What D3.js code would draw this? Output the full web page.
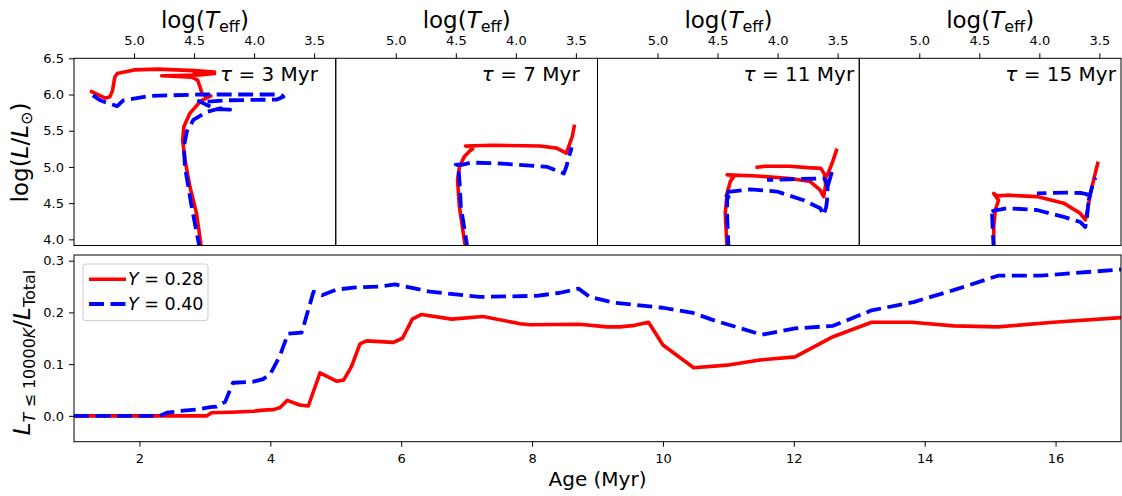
<!DOCTYPE html>
<html><head><meta charset="utf-8">
<script src="https://cdn.jsdelivr.net/npm/d3@7"></script>
<style>
body{margin:0;background:#fff;}
svg{display:block;font-family:"DejaVu Sans",sans-serif;}
</style></head><body>
<svg id="chart" width="1122" height="496"></svg>
<script>
// ---------------- data ----------------
const panelAges = [3, 7, 11, 15];
const tempTicks = [5.0, 4.5, 4.0, 3.5];
const lumTicks = [4.0, 4.5, 5.0, 5.5, 6.0, 6.5];
const ageTicks = [2, 4, 6, 8, 10, 12, 14, 16];
const fracTicks = [0.0, 0.1, 0.2, 0.3];
const seriesLabels = ["0.28", "0.40"];

// isochrones [log Teff, log L]; null = break
const iso3_Y028 = [[4.436,3.85],[4.48,4.36],[4.535,4.73],[4.576,5.10],[4.595,5.37],[4.585,5.555],[4.535,5.74],[4.45,5.90],[4.40,5.95],[4.36,5.98],[4.43,6.0],[4.45,6.1],[4.47,6.2],[4.52,6.24],[4.77,6.26],[4.45,6.27],[4.33,6.29],[4.50,6.30],[4.33,6.31],[4.50,6.33],[4.80,6.35],[5.0,6.34],[5.14,6.29],[5.16,6.24],[5.18,6.05],[5.2,5.97],[5.24,5.95],[5.353,6.04]];
const iso3_Y040 = [[4.45,3.85],[4.52,4.45],[4.576,5.0],[4.585,5.28],[4.56,5.49],[4.506,5.65],[4.395,5.76],[4.283,5.81],[4.2,5.79],[4.32,5.80],[4.40,5.86],[4.46,5.91],[4.40,5.90],[4.228,5.92],[3.81,5.93],[3.756,5.97],[3.78,6.0],[4.45,6.0],[4.867,5.98],[5.09,5.92],[5.14,5.84],[5.2,5.87],[5.283,5.92],[5.353,6.0]];
const iso7_Y028 = [[4.417,3.85],[4.47,4.45],[4.486,4.82],[4.47,5.0],[4.43,5.14],[4.39,5.21],[4.36,5.25],[4.38,5.28],[4.42,5.29],[4.2,5.30],[3.8,5.29],[3.66,5.26],[3.58,5.19],[3.56,5.28],[3.53,5.42],[3.514,5.56]];
const iso7_Y040 = [[4.40,3.85],[4.458,4.45],[4.47,4.82],[4.477,4.96],[4.5,5.03],[4.444,5.03],[4.375,5.06],[4.153,5.05],[3.736,5.0],[3.6,4.91],[3.58,5.0],[3.535,5.27]];
const iso11_Y028 = [[4.42,3.85],[4.436,4.36],[4.42,4.64],[4.394,4.80],[4.367,4.86],[4.40,4.88],[4.42,4.89],[4.17,4.875],[3.894,4.84],[3.73,4.80],[3.645,4.68],[3.617,4.59],[3.60,4.75],[3.61,4.90],[3.64,4.98],[3.75,4.99],[3.9,5.01],[4.1,5.01],[4.17,4.995],null,[3.6,4.85],[3.575,4.93],[3.54,5.08],[3.51,5.23]];
const iso11_Y040 = [[4.408,3.85],[4.42,4.31],[4.42,4.55],[4.408,4.59],[4.455,4.64],[4.394,4.66],[4.228,4.69],[4.005,4.66],[3.783,4.54],[3.645,4.43],[3.617,4.335],[3.595,4.45],[3.588,4.54],[3.583,4.73],[3.6,4.82],[3.617,4.84],[3.894,4.83],[4.088,4.82],null,[3.583,4.73],[3.56,4.86],[3.536,5.0]];
const iso15_Y028 = [[4.38,3.85],[4.38,4.17],[4.367,4.405],[4.34,4.54],[4.38,4.635],[4.35,4.60],[4.27,4.61],[4.02,4.59],[3.797,4.50],[3.66,4.36],[3.617,4.27],[3.60,4.40],[3.575,4.635],[3.548,4.82],[3.514,5.05]];
const iso15_Y040 = [[4.38,3.85],[4.39,4.20],[4.394,4.36],[4.42,4.38],[4.353,4.405],[4.27,4.43],[4.02,4.405],[3.797,4.31],[3.66,4.24],[3.617,4.17],[3.603,4.31],[3.589,4.54],[3.60,4.62],[3.65,4.64],[3.77,4.645],[4.02,4.635],null,[3.589,4.54],[3.56,4.73],[3.533,4.85]];
const isoY028 = [iso3_Y028, iso7_Y028, iso11_Y028, iso15_Y028];
const isoY040 = [iso3_Y040, iso7_Y040, iso11_Y040, iso15_Y040];

// lower panel: fraction of luminosity from stars with T <= 10000 K
const ageY028 = [1.0,3.03,3.1,3.4,3.75,3.89,4.05,4.15,4.26,4.45,4.58,4.76,5.01,5.12,5.24,5.37,5.47,5.88,6.02,6.17,6.31,6.77,7.25,7.82,7.97,8.73,9.14,9.34,9.57,9.78,10.0,10.47,10.98,11.48,12.02,12.6,13.19,13.8,14.44,15.12,15.97,17.0];
const fracY028 = [0,0,0.006,0.007,0.009,0.011,0.012,0.016,0.030,0.021,0.019,0.083,0.067,0.069,0.095,0.139,0.145,0.142,0.150,0.187,0.196,0.187,0.192,0.178,0.176,0.177,0.172,0.172,0.175,0.181,0.137,0.093,0.098,0.108,0.114,0.153,0.181,0.181,0.174,0.172,0.181,0.190];
const ageY040 = [1.0,2.31,2.42,2.67,2.93,3.08,3.18,3.31,3.43,3.74,3.89,4.0,4.15,4.27,4.48,4.66,4.79,5.01,5.27,5.68,5.91,6.44,7.2,8.07,8.43,8.71,8.88,9.24,10.0,10.46,10.77,11.51,12.02,12.6,13.19,13.83,14.44,15.12,15.76,17.0];
const fracY040 = [0,0,0.006,0.010,0.013,0.017,0.018,0.027,0.064,0.066,0.071,0.081,0.117,0.159,0.161,0.240,0.233,0.244,0.248,0.250,0.254,0.240,0.230,0.232,0.238,0.246,0.230,0.219,0.209,0.199,0.185,0.157,0.169,0.174,0.204,0.220,0.243,0.271,0.271,0.283];

// ---------------- drawing ----------------
const RED = "#ff0000", BLUE = "#0000ff";
const svg = d3.select("#chart");
const L0 = 74, R0 = 1121, PW = (R0 - L0) / 4;
const TY0 = 58.3, TY1 = 245.5;
const BY0 = 255, BY1 = 441.7;

function styleAxis(g) {
  g.select(".domain").remove();
  g.attr("font-size", 13).attr("font-family", "DejaVu Sans");
  g.selectAll(".tick line").attr("stroke", "#000").attr("stroke-width", 1);
  g.selectAll(".tick text").attr("fill", "#000");
}

const yL = d3.scaleLinear().domain([3.915, 6.5]).range([TY1, TY0]);

panelAges.forEach((age, k) => {
  const x0 = L0 + k * PW;
  const xT = d3.scaleLinear().domain([5.5, 3.32]).range([x0, x0 + PW]);
  const cid = "clipTop" + k;
  svg.append("clipPath").attr("id", cid).append("rect")
    .attr("x", x0).attr("y", TY0).attr("width", PW).attr("height", TY1 - TY0);
  const g = svg.append("g").attr("clip-path", `url(#${cid})`);
  const line = d3.line().defined(d => d !== null).x(d => xT(d[0])).y(d => yL(d[1]));
  g.append("path").datum(isoY028[k]).attr("d", line)
    .attr("fill", "none").attr("stroke", RED).attr("stroke-width", 3.6)
    .attr("stroke-linejoin", "round").attr("stroke-linecap", "square");
  g.append("path").datum(isoY040[k]).attr("d", line)
    .attr("fill", "none").attr("stroke", BLUE).attr("stroke-width", 3.8)
    .attr("stroke-linejoin", "round").attr("stroke-dasharray", "15,6.5");

  svg.append("rect").attr("x", x0).attr("y", TY0).attr("width", PW).attr("height", TY1 - TY0)
    .attr("fill", "none").attr("stroke", "#000").attr("stroke-width", 1);

  svg.append("g").attr("transform", `translate(0,${TY0})`)
    .call(d3.axisTop(xT).tickValues(tempTicks).tickFormat(d3.format(".1f")).tickSize(5).tickPadding(8))
    .call(styleAxis);

  if (k === 0) {
    svg.append("g").attr("transform", `translate(${x0},0)`)
      .call(d3.axisLeft(yL).tickValues(lumTicks).tickFormat(d3.format(".1f")).tickSize(5).tickPadding(5))
      .call(styleAxis);
  }

  const t = svg.append("text").attr("x", x0 + PW / 2).attr("y", 27.5)
    .attr("text-anchor", "middle").attr("font-size", 23).attr("fill", "#000");
  t.append("tspan").text("log(");
  t.append("tspan").attr("font-style", "italic").text("T");
  t.append("tspan").attr("font-size", 16).attr("dy", 4.5).text("eff");
  t.append("tspan").attr("dy", -4.5).text(")");

  const tau = svg.append("text").attr("x", x0 + 146).attr("y", 81)
    .attr("font-size", 20).attr("fill", "#000");
  tau.append("tspan").attr("font-style", "italic").text("τ");
  tau.append("tspan").text(` = ${age} Myr`);
});

// top y label
const yl1 = svg.append("text").attr("transform", "translate(27.5,152.5) rotate(-90)")
  .attr("text-anchor", "middle").attr("font-size", 23).attr("fill", "#000");
yl1.append("tspan").text("log(");
yl1.append("tspan").attr("font-style", "italic").text("L");
yl1.append("tspan").text("/");
yl1.append("tspan").attr("font-style", "italic").text("L");
yl1.append("tspan").attr("font-size", 16).attr("dy", 4.5).text("⊙");
yl1.append("tspan").attr("dy", -4.5).text(")");

// ---------------- lower panel ----------------
const xA = d3.scaleLinear().domain([1, 17]).range([L0, R0]);
const yF = d3.scaleLinear().domain([-0.05, 0.311]).range([BY1, BY0]);
svg.append("clipPath").attr("id", "clipBot").append("rect")
  .attr("x", L0).attr("y", BY0).attr("width", R0 - L0).attr("height", BY1 - BY0);
const gb = svg.append("g").attr("clip-path", "url(#clipBot)");
const lineB = d3.line().x(d => xA(d[0])).y(d => yF(d[1]));
gb.append("path").datum(d3.zip(ageY028, fracY028)).attr("d", lineB)
  .attr("fill", "none").attr("stroke", RED).attr("stroke-width", 3.6)
  .attr("stroke-linejoin", "round").attr("stroke-linecap", "square");
gb.append("path").datum(d3.zip(ageY040, fracY040)).attr("d", lineB)
  .attr("fill", "none").attr("stroke", BLUE).attr("stroke-width", 3.8)
  .attr("stroke-linejoin", "round").attr("stroke-dasharray", "15,6.5");

svg.append("rect").attr("x", L0).attr("y", BY0).attr("width", R0 - L0).attr("height", BY1 - BY0)
  .attr("fill", "none").attr("stroke", "#000").attr("stroke-width", 1);

svg.append("g").attr("transform", `translate(0,${BY1})`)
  .call(d3.axisBottom(xA).tickValues(ageTicks).tickFormat(d3.format("d")).tickSize(5).tickPadding(7))
  .call(styleAxis);
svg.append("g").attr("transform", `translate(${L0},0)`)
  .call(d3.axisLeft(yF).tickValues(fracTicks).tickFormat(d3.format(".1f")).tickSize(5).tickPadding(5))
  .call(styleAxis);

svg.append("text").attr("x", (L0 + R0) / 2).attr("y", 486).attr("text-anchor", "middle")
  .attr("font-size", 20).attr("fill", "#000").text("Age (Myr)");

const yl2 = svg.append("text").attr("transform", "translate(30,352.5) rotate(-90)")
  .attr("text-anchor", "middle").attr("font-size", 23).attr("fill", "#000");
yl2.append("tspan").attr("font-style", "italic").text("L");
const sub = yl2.append("tspan").attr("font-size", 16).attr("dy", 4.5);
sub.append("tspan").attr("font-style", "italic").text("T");
sub.append("tspan").text(" ≤ 10000");
sub.append("tspan").attr("font-style", "italic").text("K");
yl2.append("tspan").attr("dy", -4.5).text("/");
yl2.append("tspan").attr("font-style", "italic").text("L");
yl2.append("tspan").attr("font-size", 16).attr("dy", 4.5).text("Total");

// legend
const leg = svg.append("g");
leg.append("rect").attr("x", 83).attr("y", 264).attr("width", 125).attr("height", 56.7)
  .attr("rx", 3).attr("fill", "#fff").attr("fill-opacity", 0.8)
  .attr("stroke", "#ccc").attr("stroke-width", 1);
const legColors = [RED, BLUE];
seriesLabels.forEach((lab, i) => {
  const cy = 279.3 + i * 24.7;
  const ln = leg.append("line").attr("x1", 89).attr("x2", 126).attr("y1", cy).attr("y2", cy)
    .attr("stroke", legColors[i]).attr("stroke-width", i === 0 ? 3.6 : 3.8);
  if (i === 1) ln.attr("stroke-dasharray", "15,6.5");
  const tx = leg.append("text").attr("x", 128).attr("y", cy + 6).attr("font-size", 17.5).attr("fill", "#000");
  tx.append("tspan").attr("font-style", "italic").text("Y");
  tx.append("tspan").text(" = " + lab);
});
</script>
</body></html>
